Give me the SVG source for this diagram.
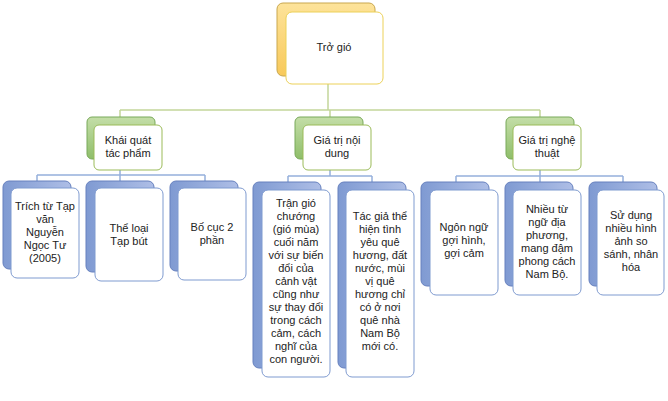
<svg xmlns="http://www.w3.org/2000/svg" width="668" height="401" viewBox="0 0 668 401">
<defs>
<linearGradient id="gy" x1="0" y1="0" x2="0" y2="1"><stop offset="0" stop-color="#fde39a"/><stop offset="1" stop-color="#f8c95a"/></linearGradient>
<linearGradient id="gg" x1="0" y1="0" x2="0" y2="1"><stop offset="0" stop-color="#c4dea8"/><stop offset="1" stop-color="#8fbe6a"/></linearGradient>
<linearGradient id="gb" x1="0" y1="0" x2="1" y2="0"><stop offset="0" stop-color="#7f9ad2"/><stop offset="1" stop-color="#aebee6"/></linearGradient>
</defs>
<style>
.by{fill:url(#gy);stroke:#c9a74e;stroke-width:1}
.fy{fill:#fff;stroke:#ecd158;stroke-width:1}
.bg{fill:url(#gg);stroke:#79a95a;stroke-width:1}
.fg{fill:#fff;stroke:#9bbb59;stroke-width:1}
.bb{fill:url(#gb);stroke:#6680be;stroke-width:1}
.fb{fill:#fff;stroke:#7f9bd0;stroke-width:1}
text{font-family:"Liberation Sans",Arial,sans-serif;font-size:11px;fill:#222;text-anchor:middle}
.cg{stroke:#c3d69b;stroke-width:1.5;fill:none}
.cb{stroke:#95b0dc;stroke-width:1.5;fill:none}
</style>
<rect width="668" height="401" fill="#fff"/>
<g id="connectors">
<path class="cg" d="M328 84V110M120 110H540M120 110V118M330 110V118M540 110V118"/>
<path class="cb" d="M120 170V175M37 175H205M37 175V182M120 175V182M205 175V182"/>
<path class="cb" d="M330 170V176M288 176H372M288 176V183M372 176V183"/>
<path class="cb" d="M540 170V176M456 176H623M456 176V183M540 176V183M623 176V183"/>
</g>
<g id="root">
<rect class="by" x="277" y="3" width="98" height="73" rx="6"/>
<rect class="fy" x="286" y="12" width="97" height="72" rx="6"/>
<text x="334" y="51">Trở gió</text>
</g>
<g id="n1">
<rect class="bg" x="87" y="117" width="68" height="42" rx="5"/>
<rect class="fg" x="94" y="125" width="68" height="45" rx="5"/>
<text x="128" y="144">Khái quát</text><text x="128" y="157">tác phẩm</text>
</g>
<g id="n2">
<rect class="bg" x="295" y="117" width="68" height="42" rx="5"/>
<rect class="fg" x="303" y="125" width="68" height="45" rx="5"/>
<text x="337" y="144">Giá trị nội</text><text x="337" y="157">dung</text>
</g>
<g id="n3">
<rect class="bg" x="506" y="117" width="68" height="42" rx="5"/>
<rect class="fg" x="513" y="125" width="68" height="45" rx="5"/>
<text x="547" y="144">Giá trị nghệ</text><text x="547" y="157">thuật</text>
</g>
<g id="c1">
<rect class="bb" x="3" y="181" width="68" height="88" rx="6"/>
<rect class="fb" x="11" y="188" width="68" height="90" rx="6"/>
<text x="45" y="210">Trích từ Tạp</text><text x="45" y="223">văn</text><text x="45" y="236">Nguyễn</text><text x="45" y="249">Ngọc Tư</text><text x="45" y="262">(2005)</text>
</g>
<g id="c2">
<rect class="bb" x="86" y="181" width="68" height="91" rx="6"/>
<rect class="fb" x="95" y="188" width="68" height="93" rx="6"/>
<text x="129" y="232">Thể loại</text><text x="129" y="245">Tạp bút</text>
</g>
<g id="c3">
<rect class="bb" x="170" y="181" width="68" height="90" rx="6"/>
<rect class="fb" x="178" y="188" width="68" height="92" rx="6"/>
<text x="212" y="231">Bố cục 2</text><text x="212" y="244">phần</text>
</g>
<g id="c4">
<rect class="bb" x="253" y="182" width="68" height="186" rx="6"/>
<rect class="fb" x="262" y="190" width="68" height="187" rx="6"/>
<text x="296" y="207">Trận gió</text><text x="296" y="220">chướng</text><text x="296" y="233">(gió mùa)</text><text x="296" y="246">cuối năm</text><text x="296" y="259">với sự biến</text><text x="296" y="272">đổi của</text><text x="296" y="285">cảnh vật</text><text x="296" y="298">cũng như</text><text x="296" y="311">sự thay đổi</text><text x="296" y="324">trong cách</text><text x="296" y="337">cảm, cách</text><text x="296" y="350">nghĩ của</text><text x="296" y="363">con người.</text>
</g>
<g id="c5">
<rect class="bb" x="338" y="182" width="68" height="186" rx="6"/>
<rect class="fb" x="346" y="190" width="68" height="187" rx="6"/>
<text x="380" y="220">Tác giả thể</text><text x="380" y="233">hiện tình</text><text x="380" y="246">yêu quê</text><text x="380" y="259">hương, đất</text><text x="380" y="272">nước, mùi</text><text x="380" y="285">vị quê</text><text x="380" y="298">hương chỉ</text><text x="380" y="311">có ở nơi</text><text x="380" y="324">quê nhà</text><text x="380" y="337">Nam Bộ</text><text x="380" y="350">mới có.</text>
</g>
<g id="c6">
<rect class="bb" x="421" y="182" width="68" height="104" rx="6"/>
<rect class="fb" x="430" y="190" width="68" height="105" rx="6"/>
<text x="464" y="231">Ngôn ngữ</text><text x="464" y="244">gợi hình,</text><text x="464" y="257">gợi cảm</text>
</g>
<g id="c7">
<rect class="bb" x="505" y="182" width="68" height="104" rx="6"/>
<rect class="fb" x="513" y="190" width="68" height="105" rx="6"/>
<text x="547" y="213">Nhiều từ</text><text x="547" y="226">ngữ địa</text><text x="547" y="239">phương,</text><text x="547" y="252">mang đậm</text><text x="547" y="265">phong cách</text><text x="547" y="278">Nam Bộ.</text>
</g>
<g id="c8">
<rect class="bb" x="589" y="182" width="68" height="104" rx="6"/>
<rect class="fb" x="597" y="190" width="67" height="105" rx="6"/>
<text x="631" y="219">Sử dụng</text><text x="631" y="232">nhiều hình</text><text x="631" y="245">ảnh so</text><text x="631" y="258">sánh, nhân</text><text x="631" y="271">hóa</text>
</g>
</svg>
